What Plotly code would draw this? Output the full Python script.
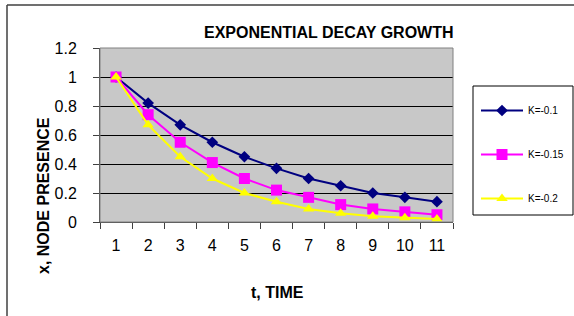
import plotly.graph_objects as go

t_labels = ["1", "2", "3", "4", "5", "6", "7", "8", "9", "10", "11"]
k01 = [1.0, 0.82, 0.67, 0.55, 0.45, 0.37, 0.30, 0.25, 0.20, 0.17, 0.14]
k015 = [1.0, 0.74, 0.55, 0.41, 0.30, 0.22, 0.17, 0.12, 0.09, 0.07, 0.05]
k02 = [1.0, 0.67, 0.45, 0.30, 0.20, 0.14, 0.09, 0.06, 0.04, 0.03, 0.02]
series_names = ["K=-0.1", "K=-0.15", "K=-0.2"]

W, H = 574, 316
L, R, T, B = 100, 453, 48, 222


def px(x):
    return (x - L) / (R - L)


def py(y):
    return (B - y) / (B - T)


fig = go.Figure()
styles = [
    dict(color="#000080", symbol="diamond", size=9),
    dict(color="#FF00FF", symbol="square", size=11),
    dict(color="#FFFF00", symbol="triangle-up", size=10),
]
for name, vals, st in zip(series_names, [k01, k015, k02], styles):
    fig.add_trace(go.Scatter(
        x=t_labels, y=vals, name=name, mode="lines+markers",
        line=dict(color=st["color"], width=2),
        marker=dict(color=st["color"], symbol=st["symbol"], size=st["size"]),
        legendgroup=name, cliponaxis=False,
    ))

font = "Arial, Liberation Sans, sans-serif"
fig.update_layout(
    width=W, height=H,
    margin=dict(l=L, r=W - R, t=T, b=H - B, autoexpand=False),
    paper_bgcolor="white", plot_bgcolor="#C8C8C8",
    font=dict(family=font, color="black"),
    showlegend=True,
    legend=dict(x=px(476), y=py(96), xanchor="left", yanchor="top",
                bgcolor="rgba(0,0,0,0)", borderwidth=0,
                font=dict(size=10, family=font), tracegroupgap=25,
                traceorder="grouped", itemwidth=42),
    xaxis=dict(type="category", tickson="boundaries", ticks="outside", ticklen=6,
               range=[-0.5, len(t_labels) - 0.5],
               tickcolor="#404040", showgrid=False, showline=True, automargin=False,
               linecolor="#404040", linewidth=1, tickfont=dict(size=16),
               ticklabelstandoff=9, zeroline=False),
    yaxis=dict(range=[0, 1.2], dtick=0.2, ticks="outside", ticklen=6, automargin=False,
               tickcolor="#404040", showgrid=True, gridcolor="black", gridwidth=1,
               showline=True, linecolor="#404040", linewidth=1,
               tickfont=dict(size=16), ticklabelstandoff=13, zeroline=False,
               tickvals=[0, 0.2, 0.4, 0.6, 0.8, 1.0, 1.2],
               ticktext=["0", "0.2", "0.4", "0.6", "0.8", "1", "1.2"]),
)

# plot area border
fig.add_shape(type="rect", xref="paper", yref="paper", x0=0, y0=0, x1=1, y1=1,
              line=dict(color="#808080", width=1), layer="above")
# outer chart border (top and left)
fig.add_shape(type="line", xref="paper", yref="paper", x0=px(7), y0=py(5), x1=px(574), y1=py(5),
              line=dict(color="#404040", width=1.5))
fig.add_shape(type="line", xref="paper", yref="paper", x0=px(7), y0=py(5), x1=px(7), y1=py(316),
              line=dict(color="#404040", width=1.5))
# legend box
fig.add_shape(type="rect", xref="paper", yref="paper", x0=px(473), y0=py(86), x1=px(573), y1=py(215),
              line=dict(color="black", width=1), fillcolor="white", layer="below")

ann = dict(xref="paper", yref="paper", showarrow=False, xanchor="center", yanchor="middle")
fig.add_annotation(text="<b>EXPONENTIAL DECAY GROWTH</b>", x=px(328.5), y=py(33),
                   font=dict(size=16, family=font), **ann)
fig.add_annotation(text="<b>x, NODE PRESENCE</b>", x=px(43), y=py(196), textangle=-90,
                   font=dict(size=16, family=font), **ann)
fig.add_annotation(text="<b>t, TIME</b>", x=px(277), y=py(292),
                   font=dict(size=16, family=font), **ann)

fig.write_html("out.html", config={"displayModeBar": False},
               post_script="document.body.style.margin='0';document.body.style.padding='0';")
